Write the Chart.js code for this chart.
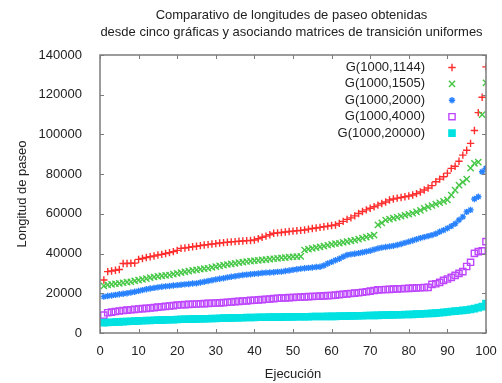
<!DOCTYPE html>
<html lang="es">
<head>
  <meta charset="UTF-8">
  <title>Comparativo de longitudes de paseo</title>
  <script src="https://cdn.jsdelivr.net/npm/chart.js"></script>
  <style>
    body { margin: 0; background: #fff; }
    #grafica { display: block; }
  </style>
</head>
<body>
  <canvas id="grafica" width="502" height="383"></canvas>

  <script>
    // Ejecuciones (eje x)
    const ejecucion = [
      1, 2, 3, 4, 5, 6, 7, 8, 9, 10, 11, 12, 13, 14, 15, 16, 17, 18, 19, 20,
      21, 22, 23, 24, 25, 26, 27, 28, 29, 30, 31, 32, 33, 34, 35, 36, 37, 38, 39, 40,
      41, 42, 43, 44, 45, 46, 47, 48, 49, 50, 51, 52, 53, 54, 55, 56, 57, 58, 59, 60,
      61, 62, 63, 64, 65, 66, 67, 68, 69, 70, 71, 72, 73, 74, 75, 76, 77, 78, 79, 80,
      81, 82, 83, 84, 85, 86, 87, 88, 89, 90, 91, 92, 93, 94, 95, 96, 97, 98, 99, 100
    ];

    // Longitudes de paseo ordenadas, una lista por gráfica
    const g1144 = [
      26700, 30900, 31200, 31600, 32000, 35000, 35000, 35100, 35200, 37100,
      37500, 38000, 38400, 38800, 39300, 39600, 40000, 40500, 41000, 41600,
      42600, 42800, 43100, 43400, 43700, 44000, 44300, 44500, 44800, 45000,
      45300, 45500, 45700, 45900, 46000, 46200, 46300, 46500, 46600, 46800,
      47500, 48200, 48800, 49500, 50200, 50400, 50600, 50900, 51100, 51300,
      51500, 51700, 51900, 52300, 52600, 52900, 53200, 53500, 53800, 54100,
      54400, 55200, 56200, 57200, 58000, 59000, 60200, 61200, 62000, 62800,
      63600, 64400, 65200, 66000, 67000, 67500, 67900, 68200, 68600, 69000,
      69500, 70200, 71000, 72000, 73000, 74200, 76200, 77500, 78700, 80500,
      82900, 84000, 86500, 89600, 92000, 95500, 102000, 111000, 118700, 134000
    ];
    const g1505 = [
      23700, 24200, 24500, 24800, 25000, 25300, 25600, 25800, 26200, 26600,
      27000, 27400, 27900, 28200, 28500, 28800, 29000, 29200, 29600, 30000,
      30400, 30800, 31200, 31500, 31800, 32100, 32400, 32600, 33000, 33400,
      33800, 34200, 34500, 34800, 35100, 35400, 35700, 36000, 36200, 36400,
      36600, 36800, 37000, 37200, 37400, 37600, 37800, 38000, 38200, 38400,
      38500, 38600, 41800, 42200, 42600, 43000, 43400, 43800, 44200, 44600,
      45000, 45200, 45600, 46000, 46400, 46800, 47300, 47800, 48300, 48800,
      49300, 54400, 55500, 56900, 57400, 57800, 58300, 58800, 59300, 59800,
      60300, 61000, 61800, 62800, 63500, 64200, 64900, 65600, 66300, 67000,
      69500, 72000, 74500, 76000, 77500, 83000, 85400, 86000, 110000, 126000
    ];
    const g2000 = [
      18300, 18600, 18900, 19200, 19500, 19800, 20000, 20400, 20800, 21200,
      21600, 22000, 22400, 22700, 23000, 23300, 23500, 23700, 23900, 24100,
      24300, 24500, 24700, 24900, 25000, 25400, 25800, 26200, 26600, 27000,
      27300, 27600, 28000, 28300, 28600, 28900, 29200, 29400, 29600, 29800,
      30000, 30200, 30400, 30500, 30600, 30800, 30900, 31200, 31500, 31800,
      32100, 32400, 32600, 32800, 33000, 33200, 33400, 34000, 35000, 35800,
      36600, 37400, 38400, 39300, 39600, 39900, 40200, 40600, 41000, 41400,
      42000, 42600, 43000, 43300, 43600, 43900, 44300, 44800, 45400, 46000,
      46600, 47200, 47800, 48300, 48800, 49300, 50000, 51000, 51800, 52700,
      53800, 55000, 56900, 58500, 61000, 62000, 67500, 68600, 81200, 83000
    ];
    const g4000 = [
      9000, 10200, 10500, 10800, 11100, 11300, 11500, 11700, 11900, 12100,
      12300, 12400, 12600, 12800, 13000, 13200, 13400, 13600, 13800, 14100,
      14200, 14300, 14400, 14500, 14600, 14700, 14800, 14900, 15000, 15100,
      15200, 15300, 15500, 15600, 15800, 15900, 16100, 16200, 16400, 16500,
      16700, 16800, 17000, 17100, 17300, 17500, 17600, 17700, 17800, 17900,
      18000, 18100, 18200, 18300, 18400, 18500, 18600, 18700, 18800, 18900,
      19100, 19300, 19500, 19700, 19900, 20100, 20300, 20500, 20800, 21100,
      21400, 21700, 21800, 21900, 22000, 22100, 22200, 22300, 22400, 22500,
      22600, 22700, 22800, 22900, 23000, 24500, 24800, 25500, 26500, 27200,
      28000, 29000, 30000, 30900, 33500, 35600, 40100, 41000, 41400, 46000
    ];
    const g20000 = [
      5200, 5300, 5400, 5500, 5600, 5700, 5800, 5900, 6000, 6100,
      6200, 6300, 6300, 6400, 6500, 6500, 6600, 6700, 6700, 6800,
      6900, 6900, 7000, 7000, 7100, 7100, 7200, 7200, 7300, 7300,
      7400, 7500, 7500, 7600, 7600, 7700, 7700, 7800, 7800, 7800,
      7900, 7900, 7900, 8000, 8000, 8000, 8000, 8100, 8100, 8100,
      8200, 8200, 8200, 8200, 8300, 8300, 8300, 8300, 8400, 8400,
      8400, 8500, 8500, 8500, 8600, 8600, 8700, 8700, 8800, 8800,
      8900, 8900, 9000, 9000, 9100, 9100, 9200, 9200, 9300, 9300,
      9400, 9500, 9600, 9700, 9800, 9900, 10000, 10200, 10400, 10600,
      10800, 11000, 11200, 11400, 11600, 11900, 12300, 12800, 13300, 14800
    ];

    const nombres = ['G(1000,1144)', 'G(1000,1505)', 'G(1000,2000)', 'G(1000,4000)', 'G(1000,20000)'];
    const ticksX = [0, 10, 20, 30, 40, 50, 60, 70, 80, 90, 100];
    const ticksY = [0, 20000, 40000, 60000, 80000, 100000, 120000, 140000];
    const titulo = ['Comparativo de longitudes de paseo obtenidas',
                    'desde cinco gráficas y asociando matrices de transición uniformes'];

    const fuente = '"Liberation Sans", Arial, Helvetica, sans-serif';
    const gris = '#7c7c7c';

    // estilo de marca tipo gnuplot para cada serie
    const estilos = [
      { pointStyle: 'cross',    radius: 3.7, color: 'rgb(255,45,45)',  fill: 'rgb(255,45,45)' },
      { pointStyle: 'crossRot', radius: 4.4, color: 'rgb(70,200,70)',  fill: 'rgb(70,200,70)' },
      { pointStyle: 'star',     radius: 3.2, color: 'rgb(40,130,255)', fill: 'rgb(40,130,255)' },
      { pointStyle: 'rect',     radius: 4.4, color: 'rgb(190,70,255)', fill: 'rgba(0,0,0,0)' },
      { pointStyle: 'rect',     radius: 4.4, color: 'rgb(0,225,225)',  fill: 'rgb(0,225,225)' }
    ];
    const series = [g1144, g1505, g2000, g4000, g20000];

    function aPuntos(valores) {
      return valores.map((v, i) => ({ x: ejecucion[i], y: v }));
    }

    // título de dos líneas centrado sobre el área del gráfico
    const encabezado = {
      id: 'encabezado',
      afterDraw(chart) {
        const { ctx, chartArea: a } = chart;
        const cx = (a.left + a.right) / 2 - 1.5;
        ctx.save();
        ctx.font = '13px ' + fuente;
        ctx.fillStyle = '#222';
        ctx.textAlign = 'center';
        ctx.textBaseline = 'middle';
        ctx.fillText(titulo[0], cx, 15);
        ctx.fillText(titulo[1], cx, 32.5);
        ctx.restore();
      }
    };

    // borde completo y marcas de escala hacia adentro (en los cuatro lados)
    const marco = {
      id: 'marco',
      afterDatasetsDraw(chart) {
        const { ctx, chartArea: a, scales } = chart;
        const largo = 4;
        ctx.save();
        ctx.strokeStyle = gris;
        ctx.lineWidth = 1;
        ctx.beginPath();
        scales.x.ticks.forEach(t => {
          const px = Math.round(scales.x.getPixelForValue(t.value)) + 0.5;
          ctx.moveTo(px, a.bottom); ctx.lineTo(px, a.bottom - largo);
          ctx.moveTo(px, a.top); ctx.lineTo(px, a.top + largo);
        });
        scales.y.ticks.forEach(t => {
          const py = Math.round(scales.y.getPixelForValue(t.value)) + 0.5;
          ctx.moveTo(a.left, py); ctx.lineTo(a.left + largo, py);
          ctx.moveTo(a.right, py); ctx.lineTo(a.right - largo, py);
        });
        ctx.stroke();
        ctx.lineWidth = 1.5;
        ctx.strokeRect(a.left, a.top, a.right - a.left, a.bottom - a.top);
        ctx.restore();
      }
    };

    // leyenda dentro del área, arriba a la derecha
    const leyenda = {
      id: 'leyenda',
      afterDraw(chart) {
        const { ctx } = chart;
        const xTexto = 425, xMarca = 452, y0 = 67.5, paso = 16.4;
        ctx.save();
        ctx.font = '13px ' + fuente;
        ctx.textAlign = 'right';
        ctx.textBaseline = 'middle';
        nombres.forEach((n, i) => {
          const y = y0 + i * paso;
          ctx.fillStyle = '#222';
          ctx.fillText(n, xTexto, y);
          const e = estilos[i];
          ctx.strokeStyle = e.color;
          ctx.fillStyle = e.fill;
          ctx.lineWidth = 1.4;
          Chart.helpers.drawPoint(ctx, {
            pointStyle: e.pointStyle, radius: e.radius, rotation: 0, borderWidth: 1.4
          }, xMarca, y);
        });
        ctx.restore();
      }
    };

    new Chart(document.getElementById('grafica'), {
      type: 'scatter',
      data: {
        datasets: series.map((valores, i) => ({
          label: nombres[i],
          data: aPuntos(valores),
          pointStyle: estilos[i].pointStyle,
          pointRadius: estilos[i].radius,
          pointBorderWidth: 1.4,
          borderColor: estilos[i].color,
          backgroundColor: estilos[i].fill,
          order: -i
        }))
      },
      options: {
        responsive: false,
        animation: false,
        events: [],
        layout: { padding: { top: 55, right: 16, left: 0, bottom: 0 } },
        plugins: {
          legend: { display: false },
          tooltip: { enabled: false },
          title: { display: false }
        },
        scales: {
          x: {
            type: 'linear',
            min: 0,
            max: 100,
            afterBuildTicks(scale) { scale.ticks = ticksX.map(v => ({ value: v })); },
            afterFit(scale) { scale.height = 50; },
            grid: { display: false },
            border: { display: false },
            ticks: { color: '#222', padding: 3, maxRotation: 0, font: { family: fuente, size: 13 } },
            title: {
              display: true,
              text: 'Ejecución',
              color: '#222',
              font: { family: fuente, size: 13 },
              padding: { top: 0, bottom: 1 }
            }
          },
          y: {
            min: 0,
            max: 140000,
            afterBuildTicks(scale) { scale.ticks = ticksY.map(v => ({ value: v })); },
            afterFit(scale) { scale.width = 100; },
            grid: { display: false },
            border: { display: false },
            ticks: {
              color: '#222',
              padding: 10,
              font: { family: fuente, size: 13 },
              callback: v => String(v)
            },
            title: {
              display: true,
              text: 'Longitud de paseo',
              color: '#222',
              font: { family: fuente, size: 13 },
              padding: { top: 15, bottom: 0 }
            }
          }
        }
      },
      plugins: [marco, leyenda, encabezado]
    });
  </script>
</body>
</html>
